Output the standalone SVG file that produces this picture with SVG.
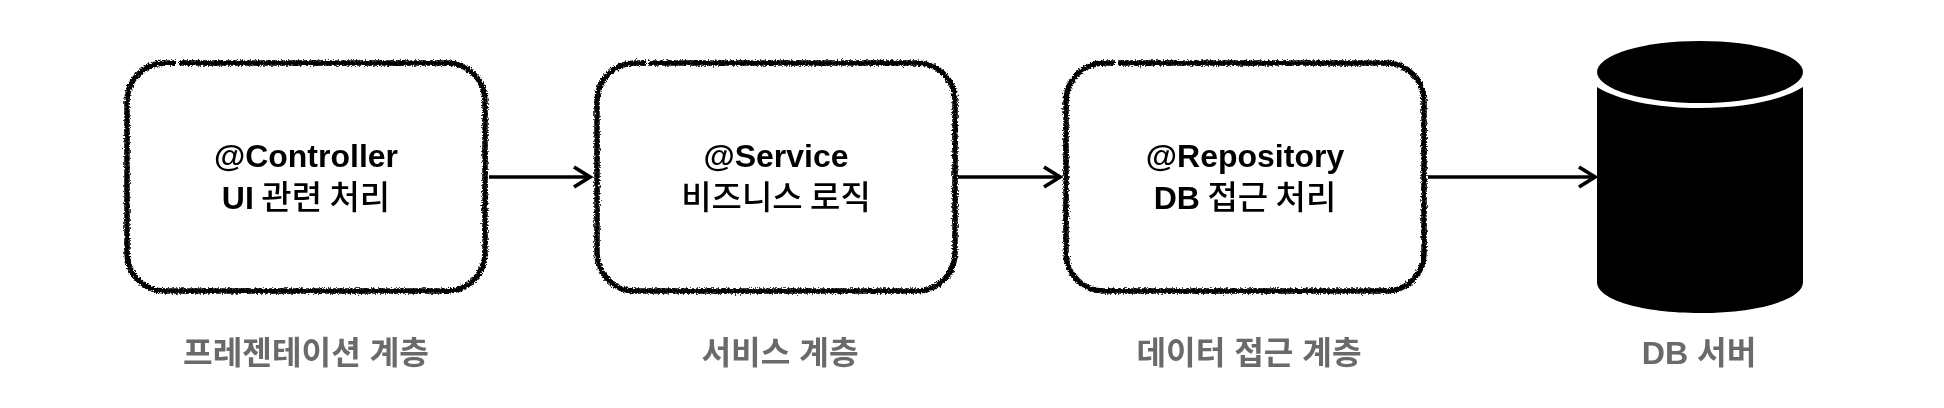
<svg xmlns="http://www.w3.org/2000/svg" width="1944" height="408" viewBox="0 0 1944 408">
<style>
.box{fill:#fff;stroke:#000;stroke-width:5.5;filter:url(#rough)}
.t{font-family:"Liberation Sans","Noto Sans CJK KR",sans-serif;font-size:32px;fill:#000;text-anchor:middle;filter:url(#soft)}
.la{font-weight:700;font-size:32px}
.k{font-family:"Noto Sans CJK KR",sans-serif;font-weight:500;font-size:33px}
.l{font-family:"Liberation Sans","Noto Sans CJK KR",sans-serif;font-size:32.2px;font-weight:700;fill:#6b6b6b;text-anchor:middle;filter:url(#soft)}
.c{fill:none;stroke:#000;stroke-width:3.5;marker-end:url(#arrow)}
</style>
<defs>
<filter id="rough" x="-5%" y="-5%" width="110%" height="110%">
<feTurbulence type="fractalNoise" baseFrequency="0.6" numOctaves="2" seed="4"/>
<feDisplacementMap in="SourceGraphic" scale="5" xChannelSelector="R" yChannelSelector="G"/>
<feGaussianBlur stdDeviation="0.45"/>
</filter>
<filter id="soft" x="-5%" y="-20%" width="110%" height="140%"><feGaussianBlur stdDeviation="0.4"/></filter>
<marker id="arrow" markerUnits="userSpaceOnUse" markerWidth="22" markerHeight="26" refX="18" refY="12" orient="auto" overflow="visible">
<path d="M2 2L18 12L2 22" fill="none" stroke="#000" stroke-width="3.800"/>
</marker>
</defs>
<rect width="1944" height="408" fill="#fff"/>
<g id="connectors">
<path class="c" d="M489 177H590"/>
<path class="c" d="M958 177H1060"/>
<path class="c" d="M1428 177H1595"/>
</g>
<g id="controller">
<path class="box" d="M179 63H447A38 38 0 0 1 485 101V253A38 38 0 0 1 447 291H165A38 38 0 0 1 127 253V101A38 38 0 0 1 165 63H176"/>
<text class="t la" x="306" y="167">@Controller</text>
<text class="t" x="306" y="209"><tspan class="la">UI</tspan><tspan class="k"> 관련 처리</tspan></text>
<text class="l" x="306" y="364">프레젠테이션 계층</text>
</g>
<g id="service">
<path class="box" d="M649 63H917A38 38 0 0 1 955 101V253A38 38 0 0 1 917 291H635A38 38 0 0 1 597 253V101A38 38 0 0 1 635 63H646"/>
<text class="t la" x="776" y="167">@Service</text>
<text class="t k" x="776" y="209">비즈니스 로직</text>
<text class="l" x="780" y="364">서비스 계층</text>
</g>
<g id="repository">
<path class="box" d="M1118 63H1386A38 38 0 0 1 1424 101V253A38 38 0 0 1 1386 291H1104A38 38 0 0 1 1066 253V101A38 38 0 0 1 1104 63H1115"/>
<text class="t la" x="1245" y="167">@Repository</text>
<text class="t" x="1245" y="209"><tspan class="la">DB</tspan><tspan class="k"> 접근 처리</tspan></text>
<text class="l" x="1249" y="364">데이터 접근 계층</text>
</g>
<g id="db">
<path d="M1597 87C1618 100 1655 108 1700 108C1745 108 1782 100 1803 87V282C1803 300 1757 313 1700 313C1643 313 1597 300 1597 282Z" fill="#000"/>
<ellipse cx="1700" cy="72" rx="103" ry="31" fill="#000"/>
<text class="l" x="1699" y="364">DB 서버</text>
</g>
</svg>
